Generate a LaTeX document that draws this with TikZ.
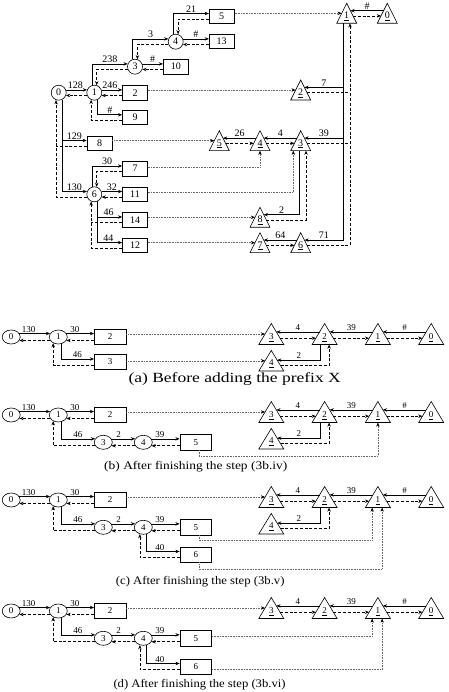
\documentclass[tikz,border=0pt]{standalone}
\usepackage{fontspec}
\setmainfont{Liberation Serif}
\usetikzlibrary{arrows.meta,calc,shapes.geometric}
\def\fS{.37}\def\fD{.5}\def\fQ{.63}
\newcommand\mktri[6]{%
  \coordinate (#1a) at ({#2},{#3});
  \coordinate (#1l) at ({#2-#4},{#3+#5});
  \coordinate (#1r) at ({#2+#4},{#3+#5});
  \coordinate (#1ls) at ($(#1a)!\fS!(#1l)$);
  \coordinate (#1ld) at ($(#1a)!\fD!(#1l)$);
  \coordinate (#1lq) at ($(#1a)!\fQ!(#1l)$);
  \coordinate (#1rs) at ($(#1a)!\fS!(#1r)$);
  \coordinate (#1rq) at ($(#1a)!\fQ!(#1r)$);
  \draw[trishape] (#1a) -- (#1l) -- (#1r) -- cycle;
  \node[tlab] (#1) at ({#2},{#3+0.66*#5}) {\underline{#6}};
}
\newcommand\mklowrow[2]{%
  \node[el] (#1E0) at (11.2,{#2}) {0};
  \node[el] (#1E1) at (58.3,{#2}) {1};
  \node[bxl] (#1B2) at (110.2,{#2}) {2};
  \def\fS{.4}\def\fD{.5}\def\fQ{.7}%
  \mktri{#1T3}{271.3}{#2-13.5}{12.5}{21}{3}%
  \mktri{#1T2}{324.6}{#2-13.5}{12.5}{21}{2}%
  \mktri{#1T1}{377.9}{#2-13.5}{12.5}{21}{1}%
  \mktri{#1T0}{431.2}{#2-13.5}{12.5}{21}{0}%
  \draw[sa] (#1E0.23) -- node[labl,pos=.3]{130} (#1E1.157);
  \draw[da] (#1E1.203) -- (#1E0.337);
  \draw[sa] (#1E1.23) -- node[labl,pos=.3]{30} (#1B2.west |- #1E1.23);
  \draw[da] (#1B2.west |- #1E1.337) -- (#1E1.337);
  \draw[sa] (#1T0ls) -- node[labl]{\#} (#1T1rs);
  \draw[sa] (#1T1ls) -- node[labl]{39} (#1T2rs);
  \draw[sa] (#1T2ls) -- node[labl]{4} (#1T3rs);
  \draw[da] (#1T3rq) -- (#1T2lq);
  \draw[da] (#1T2rq) -- (#1T1lq);
  \draw[da] (#1T1rq) -- (#1T0lq);
  \draw[dt] (#1B2.east |- #1T3ld) -- (#1T3ld);
}
\newcommand\mkfour[2]{%
  \def\fS{.47}\def\fD{.5}\def\fQ{.74}%
  \mktri{#1T4}{271.3}{#2+13.5}{12.5}{20.5}{4}%
  \coordinate (#1K1) at ($(#1T2l)!.34!(#1T2r)$);
  \coordinate (#1K2) at ($(#1T2l)!.68!(#1T2r)$);
  \draw[sa] (#1K1) |- node[labl,pos=.75]{2} (#1T4rs);
  \draw[da] (#1T4rq) -| (#1K2);
}
\newcommand\mksecond[2]{%
  \node[el] (#1E3) at (103.3,{#2}) {3};
  \node[el] (#1E4) at (143.3,{#2}) {4};
  \node[bxl] (#1B5) at (195.8,{#2}) {5};
  \draw[sa] (#1E1.290) |- node[labl,pos=.75]{46} (#1E3.157);
  \draw[da] (#1E3.203) -| (#1E1.230);
  \draw[sa] (#1E3.23) -- node[labl,pos=.3]{2} (#1E4.157);
  \draw[da] (#1E4.203) -- (#1E3.337);
  \draw[sa] (#1E4.23) -- node[labl,pos=.3]{39} (#1B5.west |- #1E4.23);
  \draw[da] (#1B5.west |- #1E4.337) -- (#1E4.337);
}
\newcommand\mkthird[2]{%
  \node[bxl] (#1B6) at (195.8,{#2}) {6};
  \draw[sa] (#1E4.297) |- node[labl,pos=.7]{40} ([yshift=3pt]#1B6.west);
  \draw[da] ([yshift=-3pt]#1B6.west) -| (#1E4.243);
}
\begin{document}
\begin{tikzpicture}[x=1pt,y=-1pt,
  sa/.style={-{Stealth[length=4.2pt,width=3.4pt]},line width=0.6pt},
  da/.style={-{Stealth[length=4.2pt,width=3.4pt]},line width=0.6pt,dash pattern=on 3pt off 1.8pt},
  dl/.style={line width=0.6pt,dash pattern=on 3pt off 1.8pt},
  dt/.style={-{Stealth[length=4.2pt,width=3.4pt,color=black]},line width=0.5pt,black!60,dash pattern=on 0.8pt off 0.8pt},
  cir/.style={circle,draw,line width=0.6pt,minimum size=15pt,inner sep=0pt,font=\fontsize{10}{10}\selectfont},
  bx/.style={rectangle,draw,line width=0.6pt,minimum width=25pt,minimum height=14.5pt,inner sep=0pt,font=\fontsize{10}{10}\selectfont},
  el/.style={ellipse,draw,line width=0.6pt,minimum width=18pt,minimum height=14pt,inner sep=0pt,font=\fontsize{9}{9}\selectfont},
  bxl/.style={rectangle,draw,line width=0.6pt,minimum width=31.7pt,minimum height=15.3pt,inner sep=0pt,font=\fontsize{9}{9}\selectfont},
  lab/.style={font=\fontsize{10}{10}\selectfont,inner sep=1pt,above},
  labl/.style={font=\fontsize{9}{9}\selectfont,inner sep=1pt,above},
  trishape/.style={line width=0.6pt},
  tlab/.style={font=\fontsize{10}{10}\selectfont,inner sep=0pt},
  capt/.style={font=\fontsize{11.6}{12}\selectfont,anchor=base west,inner sep=0pt},
]
\useasboundingbox (0,0) rectangle (448,692);
% ===== top diagram =====
\node[cir] (C0) at (58.7,92.7) {0};
\node[cir] (C1) at (94.3,92.7) {1};
\node[cir] (C3) at (135,66.7) {3};
\node[cir] (C4) at (175.7,41.7) {4};
\node[cir] (C6) at (94.3,194.3) {6};
\node[bx] (B2) at (135,92.7) {2};
\node[bx] (B9) at (135,117.5) {9};
\node[bx] (B10) at (175.8,66.7) {10};
\node[bx] (B13) at (221.7,41.5) {13};
\node[bx] (B5) at (221.7,16.2) {5};
\node[bx] (B8) at (99.5,143.2) {8};
\node[bx] (B7) at (135,168.7) {7};
\node[bx] (B11) at (135,194.3) {11};
\node[bx] (B14) at (135,219.7) {14};
\node[bx] (B12) at (135,245.3) {12};
\draw[sa] (C0.21) -- node[lab,pos=.45]{128} (C1.159);
\draw[da] (C1.201) -- (C0.339);
\draw[sa] (C1.21) -- node[lab,pos=.4]{246} (B2.west |- C1.21);
\draw[da] (B2.west |- C1.339) -- (C1.339);
\draw[sa] (C1.108) |- node[lab,pos=.75]{238} (C3.159);
\draw[da] (C3.201) -| (C1.72);
\draw[sa] (C3.21) -- node[lab]{\#} (B10.west |- C3.21);
\draw[da] (B10.west |- C3.339) -- (C3.339);
\draw[sa] (C3.108) |- node[lab,pos=.75]{3} (C4.159);
\draw[da] (C4.201) -| (C3.72);
\draw[sa] (C4.21) -- node[lab]{\#} (B13.west |- C4.21);
\draw[da] (B13.west |- C4.339) -- (C4.339);
\draw[sa] (C4.108) |- node[lab,pos=.75]{21} ([yshift=2.7pt]B5.west);
\draw[da] ([yshift=-2.7pt]B5.west) -| (C4.72);
\draw[sa] (C1.294) |- node[lab,pos=.75]{\#} ([yshift=2.7pt]B9.west);
\draw[da] ([yshift=-2.7pt]B9.west) -| (C1.246);
\coordinate (B8u) at ([yshift=2.7pt]B8.west);
\coordinate (B8d) at ([yshift=-2.7pt]B8.west);
\draw[sa] (C0.294) |- node[lab,pos=.75]{130} (C6.159);
\draw[sa] (C0.294 |- B8u) -- node[lab]{129} (B8u);
\draw[da] (C6.201) -| (C0.250);
\draw[dl] (B8d) -- (C0.250 |- B8d);
\draw[sa] (C6.108) |- node[lab,pos=.75]{30} ([yshift=2.7pt]B7.west);
\draw[da] ([yshift=-2.7pt]B7.west) -| (C6.72);
\draw[sa] (C6.21) -- node[lab]{32} (B11.west |- C6.21);
\draw[da] (B11.west |- C6.339) -- (C6.339);
\coordinate (B14u) at ([yshift=2.7pt]B14.west);
\coordinate (B14d) at ([yshift=-2.7pt]B14.west);
\draw[sa] (C6.294) |- node[lab,pos=.72]{44} ([yshift=2.7pt]B12.west);
\draw[sa] (C6.294 |- B14u) -- node[lab,pos=.45]{46} (B14u);
\draw[da] ([yshift=-2.7pt]B12.west) -| (C6.246);
\draw[dl] (B14d) -- (C6.246 |- B14d);
% triangles
\mktri{T1}{346.7}{3.3}{10}{20}{1}
\mktri{T0}{387.3}{3.3}{10}{20}{0}
\mktri{T2}{300.7}{80}{10}{20}{2}
\mktri{T5}{219.3}{130.7}{10}{20}{5}
\mktri{T4}{260}{130.7}{10}{20}{4}
\mktri{T3}{300.7}{130.7}{10}{20}{3}
\mktri{T8}{260}{207.3}{10}{20}{8}
\mktri{T7}{260}{232.7}{10}{20}{7}
\mktri{T6}{300.7}{232.7}{10}{20}{6}
\draw[sa] (T0ls) -- node[lab]{\#} (T1rs);
\draw[da] (T1rq) -- (T0lq);
\draw[dt] (B5.east |- T1ld) -- (T1ld);
\coordinate (J1) at ($(T1l)!.33!(T1r)$);
\coordinate (J2) at ($(T1l)!.665!(T1r)$);
\draw[sa] (J1) |- node[lab,pos=.75]{71} (T6rs);
\draw[sa] (J1 |- T2rs) -- node[lab]{7} (T2rs);
\draw[sa] (J1 |- T3rs) -- node[lab]{39} (T3rs);
\draw[da] (T6rq) -| (J2);
\draw[dl] (T2rq) -- (J2 |- T2rq);
\draw[dl] (T3rq) -- (J2 |- T3rq);
\draw[sa] (T3ls) -- node[lab]{4} (T4rs);
\draw[sa] (T4ls) -- node[lab]{26} (T5rs);
\draw[da] (T5rq) -- (T4lq);
\draw[da] (T4rq) -- (T3lq);
\draw[sa] (T6ls) -- node[lab]{64} (T7rs);
\draw[da] (T7rq) -- (T6lq);
\coordinate (K1) at ($(T3l)!.43!(T3r)$);
\coordinate (K2) at ($(T3l)!.765!(T3r)$);
\draw[sa] (K1) |- node[lab,pos=.75]{2} (T8rs);
\draw[da] (T8rq) -| (K2);
\coordinate (K3) at ($(T3l)!.13!(T3r)$);
\coordinate (K4) at ($(T4l)!.5!(T4r)$);
\draw[dt] (B2.east |- T2ld) -- (T2ld);
\draw[dt] (B8.east |- T5ld) -- (T5ld);
\draw[dt] ([yshift=1.5pt]B7.east) -| (K4);
\draw[dt] ([yshift=2pt]B11.east) -| (K3);
\draw[dt] (B14.east |- T8ld) -- (T8ld);
\draw[dt] (B12.east |- T7ld) -- (T7ld);
% ===== lower diagrams =====
\tikzset{tlab/.style={font=\fontsize{9}{9}\selectfont,inner sep=0pt}}
% (a)
\mklowrow{a}{337}
\node[bxl] (aB3) at (110.2,362) {3};
\draw[sa] (aE1.290) |- node[labl,pos=.75]{46} ([yshift=3pt]aB3.west);
\draw[da] ([yshift=-3pt]aB3.west) -| (aE1.230);
\mkfour{a}{337}
\draw[dt] (aB3.east |- aT4ld) -- (aT4ld);
\node[capt,font=\fontsize{14}{14}\selectfont] (capa) at (128.3,382) {\scalebox{1.25}[1]{(a) Before adding the prefix X}};
% (b)
\mklowrow{b}{415}
\mksecond{b}{442.3}
\mkfour{b}{415}
\coordinate (bM) at ($(bT1l)!.5!(bT1r)$);
\coordinate (bY) at (0,456);
\draw[dt] ([xshift=3pt]bB5.south) |- (bM |- bY) -- (bM);
\node[capt] (capb) at (104,469.3) {\scalebox{1.16}[1]{(b) After finishing the step (3b.iv)}};
% (c)
\mklowrow{c}{500}
\mksecond{c}{527.3}
\mkthird{c}{554.5}
\mkfour{c}{500}
\coordinate (cM1) at ($(cT1l)!.27!(cT1r)$);
\coordinate (cM2) at ($(cT1l)!.67!(cT1r)$);
\coordinate (cY1) at (0,540);
\coordinate (cY2) at (0,569);
\draw[dt] ([xshift=3pt]cB5.south) |- (cM1 |- cY1) -- (cM1);
\draw[dt] ([xshift=3pt]cB6.south) |- (cM2 |- cY2) -- (cM2);
\node[capt] (capc) at (115.7,584.3) {\scalebox{1.095}[1]{(c) After finishing the step (3b.v)}};
% (d)
\mklowrow{d}{611}
\mksecond{d}{638.3}
\mkthird{d}{666.5}
\coordinate (dM1) at ($(dT1l)!.27!(dT1r)$);
\coordinate (dM2) at ($(dT1l)!.67!(dT1r)$);
\draw[dt] ([yshift=2pt]dB5.east) -| (dM1);
\draw[dt] ([yshift=-3pt]dB6.east) -| (dM2);
\node[capt] (capd) at (113.3,687.7) {\scalebox{1.09}[1]{(d) After finishing the step (3b.vi)}};
\end{tikzpicture}
\end{document}
